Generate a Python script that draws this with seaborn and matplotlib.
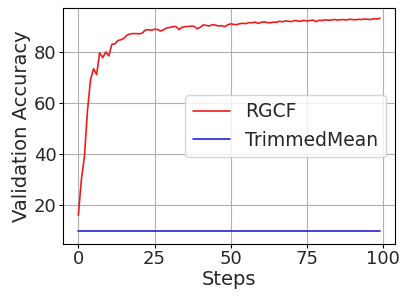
import matplotlib
matplotlib.use('Agg')
import matplotlib.pyplot as plt
import seaborn as sns
import numpy as np
import pandas as pd

sns.set_style('whitegrid')
plt.rcParams['font.family'] = ['DejaVu Sans']
plt.rcParams['axes.edgecolor'] = 'black'
plt.rcParams['grid.color'] = '#b0b0b0'

# 검증 정확도 (읽어낸 값)
steps = list(range(100))
rgcf = [16.0, 30.0, 39.0, 57.0, 69.0, 73.3, 71.0, 79.5, 77.6, 79.8,
        78.3, 82.8, 83.0, 84.3, 84.6, 85.2, 86.4, 86.9, 87.0, 87.0,
        86.9, 87.2, 88.4, 88.5, 88.3, 88.7, 88.6, 88.0, 88.5, 89.2,
        89.4, 89.7, 89.8, 88.6, 89.4, 89.7, 89.8, 89.9, 89.8, 88.9,
        89.5, 90.4, 90.2, 90.0, 90.5, 90.3, 90.0, 90.1, 89.7, 90.4,
        90.8, 90.6, 90.5, 90.9, 91.0, 90.9, 91.3, 91.2, 91.5, 91.0,
        91.4, 91.6, 91.3, 91.2, 91.5, 91.4, 91.8, 91.6, 92.0, 91.8,
        91.7, 92.1, 92.0, 91.8, 92.2, 91.9, 92.1, 92.3, 91.7, 92.2,
        92.1, 92.4, 92.2, 92.3, 92.5, 92.3, 92.4, 92.5, 92.3, 92.6,
        92.5, 92.4, 92.6, 92.5, 92.7, 92.6, 92.5, 92.8, 92.7, 93.0]
trimmed_mean = [9.8] * 100

df = pd.DataFrame({'Steps': steps * 2,
                   'acc': rgcf + trimmed_mean,
                   'method': ['RGCF'] * 100 + ['TrimmedMean'] * 100})

fig, ax = plt.subplots(figsize=(4.02, 2.97), dpi=100)
sns.lineplot(data=df, x='Steps', y='acc', hue='method',
             palette={'RGCF': '#ee1c1c', 'TrimmedMean': '#2222dd'},
             linewidth=1.2, ax=ax)

ax.set_xlim(-5, 104)
ax.set_ylim(4.7, 97)
ax.set_xticks([0, 25, 50, 75, 100])
ax.set_yticks([20, 40, 60, 80])
ax.tick_params(labelsize=13, length=3, pad=1.5, color='black', left=True, bottom=True)
ax.set_xlabel('Steps', fontsize=14, labelpad=1)
ax.set_ylabel('Validation Accuracy', fontsize=14, labelpad=2)
ax.legend(title=None, fontsize=13.5, loc='center right', frameon=True)

plt.subplots_adjust(left=0.157, right=0.983, top=0.973, bottom=0.178)
plt.savefig('out.png', dpi=100)
